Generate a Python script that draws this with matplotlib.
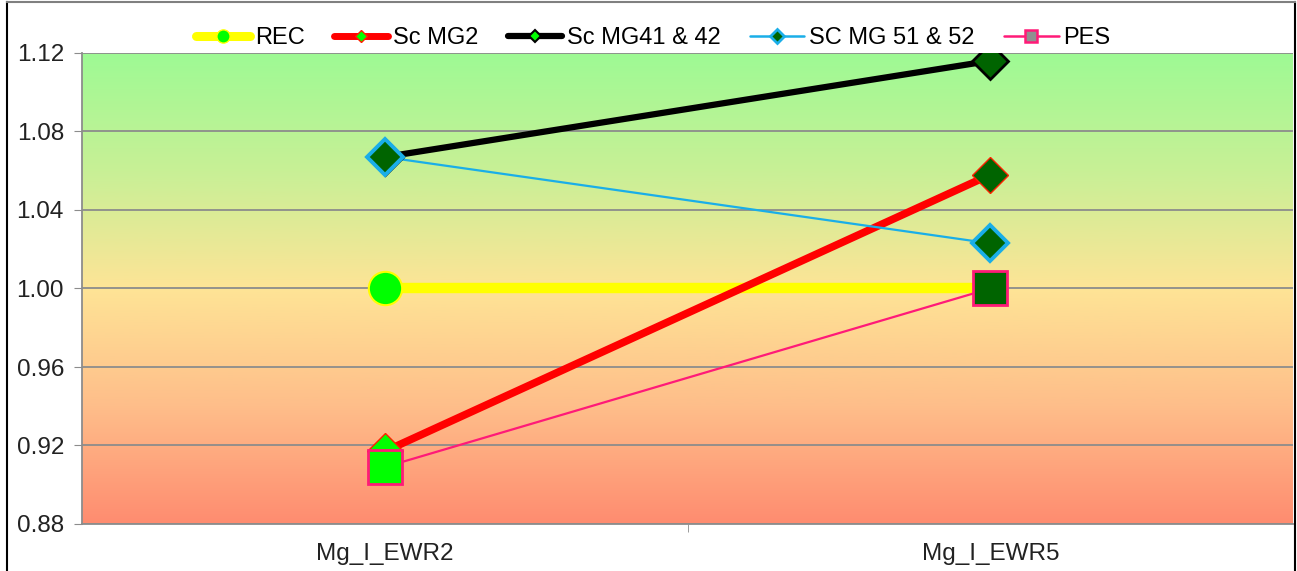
import numpy as np
import matplotlib
matplotlib.use("Agg")
import matplotlib.pyplot as plt
from matplotlib.lines import Line2D
from matplotlib.colors import LinearSegmentedColormap

plt.rcParams['font.family'] = ['Liberation Sans', 'DejaVu Sans']

categories = ["Mg_I_EWR2", "Mg_I_EWR5"]
series_names = ["REC", "Sc MG2", "Sc MG41 & 42", "SC MG 51 & 52", "PES"]
rec = [1.000, 1.000]
sc_mg2 = [0.917, 1.058]
sc_mg41_42 = [1.067, 1.116]
sc_mg51_52 = [1.067, 1.023]
pes = [0.909, 1.000]
y_ticks = [0.88, 0.92, 0.96, 1.00, 1.04, 1.08, 1.12]

LIME = "#00ff00"
DARK = "#006400"

# line colour, line width, marker, marker size, edge colour, edge width, per-point fills
styles = [
    dict(color="#ffff00", lw=7.5, marker="o", ms=24, mec="#ffff00", mew=1.5, fills=[LIME, None]),
    dict(color="#ff0000", lw=5.5, marker="D", ms=18, mec="#ff2000", mew=1.0, fills=[LIME, DARK]),
    dict(color="#000000", lw=4.5, marker="D", ms=18, mec="#000000", mew=2.0, fills=[DARK, DARK]),
    dict(color="#1aaee8", lw=1.6, marker="D", ms=18, mec="#1aaee8", mew=2.8, fills=[DARK, DARK]),
    dict(color="#ff1a78", lw=1.6, marker="s", ms=25, mec="#ff1a78", mew=2.0, fills=[LIME, DARK]),
]
# legend swatches: line width, marker size, marker fill
legend_lw = [6.5, 5.0, 4.5, 1.8, 1.8]
legend_ms = [9.5, 6.5, 6.5, 7.0, 8.5]
legend_fills = [LIME, LIME, LIME, DARK, "#909090"]
legend_mew = [1.0, 1.0, 1.5, 2.0, 1.8]
values = [rec, sc_mg2, sc_mg41_42, sc_mg51_52, pes]

fig = plt.figure(figsize=(12.97, 5.71), dpi=100)
ax = fig.add_axes([82 / 1297, 47 / 571, 1211 / 1297, 471 / 571])

# vertical colour wash behind the plot
cmap = LinearSegmentedColormap.from_list(
    "wash",
    [(0.0, (255 / 255, 140 / 255, 112 / 255)),
     (0.25, (254 / 255, 190 / 255, 138 / 255)),
     (0.5, (254 / 255, 228 / 255, 150 / 255)),
     (0.75, (200 / 255, 240 / 255, 150 / 255)),
     (1.0, (158 / 255, 250 / 255, 148 / 255))])
grad = np.linspace(0, 1, 256).reshape(-1, 1)
ax.imshow(grad, cmap=cmap, origin="lower", aspect="auto",
          extent=[0, 1, 0, 1], transform=ax.transAxes, zorder=0)

x = np.arange(len(categories))
for vals, st in zip(values, styles):
    ax.plot(x, vals, color=st["color"], lw=st["lw"], solid_capstyle="butt", zorder=3)
    for xi, v, fc in zip(x, vals, st["fills"]):
        if fc is None:
            continue
        ax.plot([xi], [v], linestyle="none", marker=st["marker"], ms=st["ms"],
                mfc=fc, mec=st["mec"], mew=st["mew"], zorder=4)

ax.set_xlim(-0.5, 1.5)
ax.set_ylim(0.88, 1.12)
ax.set_yticks(y_ticks)
ax.set_yticklabels([f"{t:.2f}" for t in y_ticks])
ax.yaxis.grid(True, color="#8c8c8c", lw=1.3)
ax.set_axisbelow(True)
for gl in ax.get_ygridlines():
    gl.set_zorder(1)

ax.set_xticks(x)
ax.set_xticklabels(categories)
ax.set_xticks([0.5], minor=True)
ax.tick_params(axis="x", which="major", length=0, pad=14, labelsize=17.5, labelcolor="#222222")
ax.tick_params(axis="x", which="minor", length=6, color="#8c8c8c", direction="out")
ax.tick_params(axis="y", length=6, color="#8c8c8c", direction="out", pad=7,
               labelsize=17.5, labelcolor="#222222")

for side in ["top", "right"]:
    ax.spines[side].set_visible(False)
for side in ["left", "bottom"]:
    ax.spines[side].set_color("#8c8c8c")
    ax.spines[side].set_linewidth(1.3)

handles = []
for st, lw, ms, lf, mew in zip(styles, legend_lw, legend_ms, legend_fills, legend_mew):
    handles.append(Line2D([0], [0], color=st["color"], lw=lw, solid_capstyle="round",
                          marker=st["marker"], ms=ms, mfc=lf, mec=st["mec"], mew=mew))
fig.legend(handles, series_names, loc="center", bbox_to_anchor=(653 / 1297, 1 - 38 / 571),
           ncol=5, frameon=False, fontsize=17, handlelength=2.3, handletextpad=0.2,
           columnspacing=1.25, borderaxespad=0, borderpad=0)

# outer frame of the chart
fl, fr, ft = 7 / 1297, 1295 / 1297, 1 - 2 / 571
fig.add_artist(Line2D([fl, fl], [0, ft], transform=fig.transFigure, color="#000000", lw=1.5))
fig.add_artist(Line2D([fr, fr], [0, ft], transform=fig.transFigure, color="#000000", lw=1.5))
fig.add_artist(Line2D([fl, fr], [ft, ft], transform=fig.transFigure, color="#808080", lw=1.5))

fig.savefig("out.png", dpi=100, facecolor="white")
